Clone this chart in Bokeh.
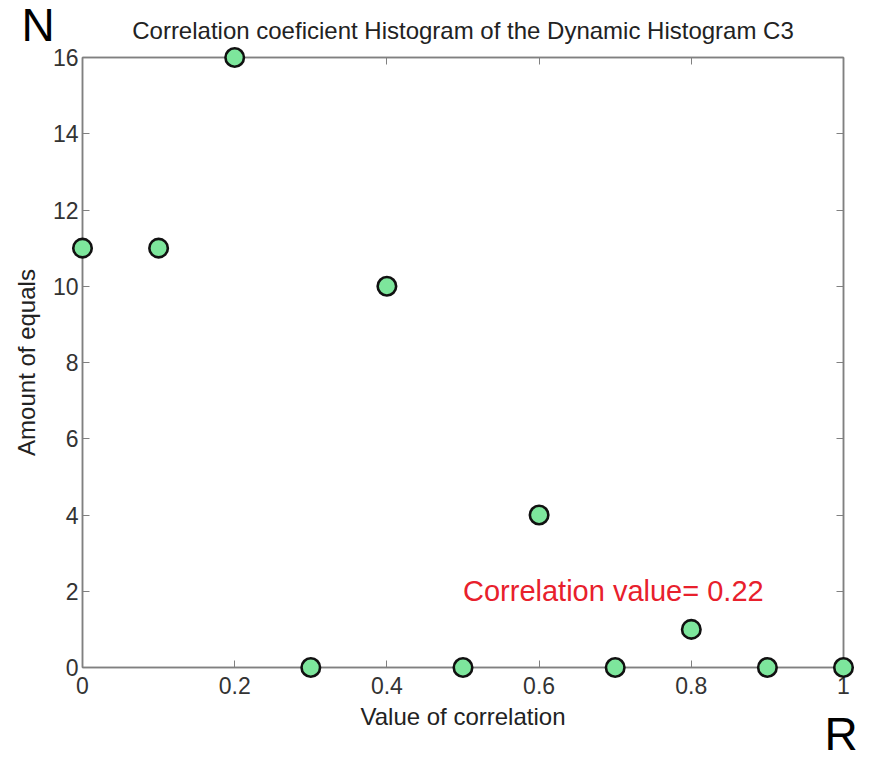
from bokeh.plotting import figure
from bokeh.models import Range1d, FixedTicker, LinearAxis, Label
from bokeh.core.properties import value
from bokeh.embed import file_html
from bokeh.resources import INLINE

# ---- data ----
corr_values = [0.0, 0.1, 0.2, 0.3, 0.4, 0.5, 0.6, 0.7, 0.8, 0.9, 1.0]
amount_equals = [11, 11, 16, 0, 10, 0, 4, 0, 1, 0, 0]
x_ticks = [0, 0.2, 0.4, 0.6, 0.8, 1.0]
x_tick_labels = ["0", "0.2", "0.4", "0.6", "0.8", "1"]
y_ticks = [0, 2, 4, 6, 8, 10, 12, 14, 16]
y_tick_labels = ["0", "2", "4", "6", "8", "10", "12", "14", "16"]
title_text = "Correlation coeficient Histogram of the Dynamic Histogram C3"
x_label = "Value of correlation"
y_label = "Amount of equals"
note_text = "Correlation value= 0.22"
note_x, note_y = 0.5, 2

FONT = "Liberation Sans"
AXC = "#808080"
TXT = "#333333"
W, H = 863, 754

p = figure(width=W, height=H, output_backend="svg", toolbar_location=None,
           x_range=Range1d(0, 1), y_range=Range1d(0, 16),
           min_border_left=82, min_border_right=20, min_border_top=57, min_border_bottom=87)
p.background_fill_color = "white"
p.border_fill_color = "white"
p.outline_line_color = AXC
p.outline_line_width = 1.5
p.grid.visible = False

p.title.text = title_text
p.title.align = "center"
p.title.text_font = FONT
p.title.text_font_size = "24px"
p.title.text_font_style = "normal"
p.title.text_color = "#222222"
p.title.standoff = 28

def style(ax, ticks, labels, show_labels):
    ax.ticker = FixedTicker(ticks=ticks)
    ax.major_label_overrides = {t: l for t, l in zip(ticks, labels)}
    ax.major_tick_in = 7
    ax.major_tick_out = 0
    ax.minor_tick_line_color = None
    ax.axis_line_color = AXC
    ax.axis_line_width = 1.5
    ax.major_tick_line_color = AXC
    ax.major_tick_line_width = 1
    ax.major_label_text_font = FONT
    ax.major_label_text_font_size = "23px"
    ax.major_label_text_color = TXT if show_labels else None

xa = p.xaxis[0]
ya = p.yaxis[0]
style(xa, x_ticks, x_tick_labels, True)
style(ya, y_ticks, y_tick_labels, True)
xa.major_label_standoff = 9
ya.major_label_standoff = 4
xa.axis_label = x_label
ya.axis_label = y_label
for ax in (xa, ya):
    ax.axis_label_text_font = FONT
    ax.axis_label_text_font_size = "24px"
    ax.axis_label_text_font_style = "normal"
    ax.axis_label_text_color = "#222222"
xa.axis_label_standoff = 6
ya.axis_label_standoff = 10

top_ax = LinearAxis()
right_ax = LinearAxis()
style(top_ax, x_ticks, x_tick_labels, False)
style(right_ax, y_ticks, y_tick_labels, False)
for ax in (top_ax, right_ax):
    ax.major_label_text_font_size = "0px"
    ax.major_label_standoff = 0
p.add_layout(top_ax, "above")
p.add_layout(right_ax, "right")

r = p.scatter(corr_values, amount_equals, size=18.5, fill_color="#7de69c",
              line_color="#111111", line_width=2.6)
r.level = "overlay"

p.add_layout(Label(x=note_x, y=note_y, text=note_text, text_align="left",
                   text_baseline="middle", text_font=FONT, text_font_size="29px",
                   text_color="#e8202c"))

# corner letters anchored to the axes corners, drawn unclipped
tn = p.text(x=[0], y=[16], text=["N"], x_offset=-61, y_offset=-33,
            text_align="left", text_baseline="alphabetic", text_font=value(FONT),
            text_font_size="46px", text_color="black")
tn.level = "overlay"
tr = p.text(x=[1], y=[0], text=["R"], x_offset=-19, y_offset=66,
            text_align="left", text_baseline="alphabetic", text_font=value(FONT),
            text_font_size="46px", text_color="black")
tr.level = "overlay"

open("out.html", "w").write(file_html(p, INLINE))
